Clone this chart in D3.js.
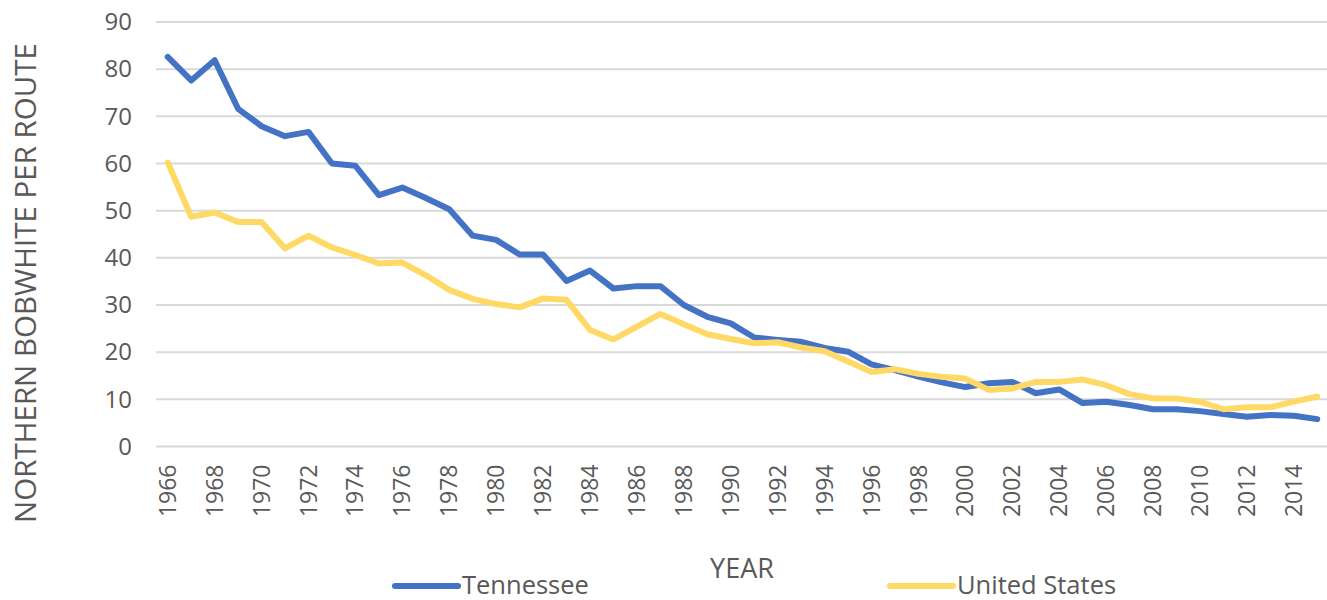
<!DOCTYPE html>
<meta charset="utf-8">
<html>
	<head>
		<script src="https://d3js.org/d3.v7.min.js"></script>
		<style>
			body { margin: 0; background: #fff; overflow: hidden; }
			.tick text { fill: #595959; font-family: "Open Sans", sans-serif; }
			.narrow { font-family: "Liberation Sans Narrow", "Open Sans", sans-serif; fill: #595959; }
		</style>
	</head>
	<body>
		<div id="chart"></div>
		<script>
			// Data
			var years = d3.range(1966, 2016);
			var tennessee = [82.6, 77.6, 81.9, 71.6, 67.9, 65.8, 66.7, 60.0, 59.5, 53.3,
				54.9, 52.7, 50.3, 44.7, 43.8, 40.7, 40.7, 35.1, 37.3, 33.5,
				34.0, 34.0, 30.0, 27.5, 26.1, 23.1, 22.6, 22.2, 20.9, 20.1,
				17.4, 16.2, 14.8, 13.6, 12.6, 13.4, 13.7, 11.3, 12.1, 9.2,
				9.5, 8.8, 7.9, 7.9, 7.5, 6.9, 6.3, 6.7, 6.5, 5.8];
			var unitedStates = [60.2, 48.7, 49.6, 47.6, 47.6, 42.0, 44.7, 42.2, 40.6, 38.8,
				39.0, 36.3, 33.2, 31.3, 30.2, 29.5, 31.4, 31.1, 24.7, 22.7,
				25.4, 28.1, 25.9, 23.8, 22.8, 21.9, 22.1, 21.0, 20.2, 18.0,
				15.8, 16.4, 15.4, 14.8, 14.4, 12.0, 12.3, 13.7, 13.7, 14.2,
				13.0, 11.1, 10.2, 10.2, 9.5, 7.9, 8.3, 8.3, 9.5, 10.6];
			var yTicks = [0, 10, 20, 30, 40, 50, 60, 70, 80, 90];
			var seriesNames = ["Tennessee", "United States"];
			var colours = ["#4472C4", "#FFD966"];

			var W = 1327, H = 600;
			var margin = {top: 22, left: 156};
			var width = 1173,
				height = 424.5;

			var svg = d3.select("#chart").append("svg")
				.attr("width", W)
				.attr("height", H);

			var chart = svg.append("g")
				.attr("transform", "translate(" + margin.left + "," + margin.top + ")");

			// Scales
			var x = d3.scaleBand().domain(years).range([0, width]);
			var y = d3.scaleLinear().domain([0, 90]).range([height, 0]);

			// Gridlines
			chart.append("g")
				.selectAll("line")
				.data(yTicks)
				.enter().append("line")
				.attr("x1", 0)
				.attr("x2", width)
				.attr("y1", function(d) { return y(d); })
				.attr("y2", function(d) { return y(d); })
				.attr("stroke", "#d9d9d9")
				.attr("stroke-width", 2);

			// Y axis
			var yAxis = chart.append("g")
				.attr("transform", "translate(-24,0)")
				.call(d3.axisLeft(y).tickValues(yTicks).tickSize(0).tickPadding(0));
			yAxis.select(".domain").remove();
			yAxis.selectAll("text").style("font-size", "24px");

			// X axis
			var xAxis = chart.append("g")
				.attr("transform", "translate(0," + height + ")")
				.call(d3.axisBottom(x)
					.tickValues(years.filter(function(d) { return d % 2 === 0; }))
					.tickSize(0));
			xAxis.select(".domain").remove();
			xAxis.selectAll("text")
				.style("font-size", "23px")
				.attr("text-anchor", "end")
				.attr("transform", "rotate(-90)")
				.attr("x", -18)
				.attr("y", 0)
				.attr("dy", "0.35em");

			// Lines
			var line = d3.line()
				.x(function(d, i) { return x(years[i]) + x.bandwidth() / 2; })
				.y(function(d) { return y(d); });

			[tennessee, unitedStates].forEach(function(s, k) {
				chart.append("path")
					.datum(s)
					.attr("fill", "none")
					.attr("stroke", colours[k])
					.attr("stroke-width", 6)
					.attr("stroke-linejoin", "round")
					.attr("stroke-linecap", "round")
					.attr("d", line);
			});

			// Axis titles
			svg.append("text")
				.attr("transform", "translate(36,283) rotate(-90)")
				.attr("text-anchor", "middle")
				.style("font-family", "'Open Sans', sans-serif")
				.style("font-size", "29.5px")
				.style("fill", "#595959")
				.text("NORTHERN BOBWHITE PER ROUTE");

			svg.append("text")
				.attr("class", "narrow")
				.attr("x", 742)
				.attr("y", 578)
				.attr("text-anchor", "middle")
				.style("font-size", "27px")
				.text("YEAR");

			// Legend
			var legendX = [395, 890];
			var legend = svg.append("g")
				.selectAll("g")
				.data(seriesNames)
				.enter().append("g")
				.attr("transform", function(d, i) { return "translate(" + legendX[i] + ",586)"; });

			legend.append("line")
				.attr("x1", 0)
				.attr("x2", 63)
				.attr("stroke", function(d, i) { return colours[i]; })
				.attr("stroke-width", 6)
				.attr("stroke-linecap", "round");

			legend.append("text")
				.attr("class", "narrow")
				.attr("x", 67)
				.attr("y", 8)
				.style("font-size", "25.5px")
				.text(function(d) { return d; });
		</script>
	</body>
</html>
